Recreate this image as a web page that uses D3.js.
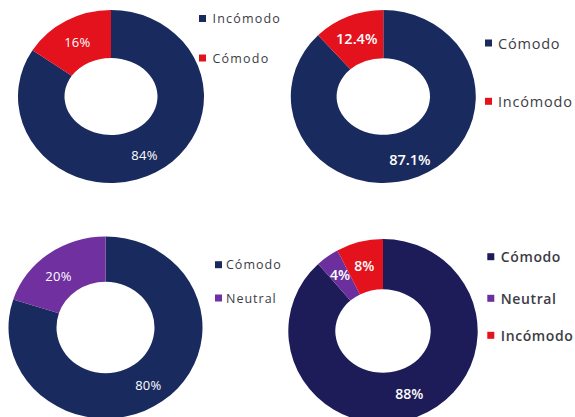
<!DOCTYPE html>
<html>
<head>
<meta charset="utf-8">
<script src="https://cdn.jsdelivr.net/npm/d3@7"></script>
<style>
  html, body { margin: 0; padding: 0; background: #ffffff; }
  svg { display: block; }
</style>
</head>
<body>
<svg id="chart" width="575" height="417"></svg>
<script>
// ---- data ----
const categoriesA = ["Incómodo", "Cómodo"];
const valuesA = [84, 16];

const categoriesB = ["Cómodo", "Incómodo"];
const valuesB = [87.1, 12.4];

const categoriesC = ["Cómodo", "Neutral"];
const valuesC = [80, 20];

const categoriesD = ["Cómodo", "Neutral", "Incómodo"];
const valuesD = [88, 4, 8];

// ---- layout & style for each donut ----
const NAVY = "#192a5e", RED = "#e3121d", PURPLE = "#7030a0";
const panels = [
  { cats: categoriesA, vals: valuesA, colors: [NAVY, RED],
    cx: 111, cy: 96.5, orx: 93, ory: 86.5, irx: 46.5, iry: 38.5,
    nudge: [[0, 4], [0, 0]],
    labelFont: { family: "Open Sans", size: 13, weight: 400, spacing: 0.3 },
    legend: { x: 199, y: [18.5, 58], sq: 7, gap: 6.5, family: "Open Sans", size: 12.5, weight: 400, spacing: 1.2 } },
  { cats: categoriesB, vals: valuesB, colors: [NAVY, RED],
    cx: 383.3, cy: 96.5, orx: 92.5, ory: 86.5, irx: 46.7, iry: 38.3,
    nudge: [[0, 5], [0, 0]],
    labelFont: { family: "Open Sans", size: 14.5, weight: 600, spacing: 0 },
    legend: { x: 485, y: [43, 101.3], sq: 7, gap: 6, family: "Open Sans", size: 14.5, weight: 400, spacing: 0.8 } },
  { cats: categoriesC, vals: valuesC, colors: [NAVY, PURPLE],
    cx: 105.5, cy: 327.5, orx: 97, ory: 91, irx: 49, iry: 45.8,
    nudge: [[0, 2], [-4, 4]],
    labelFont: { family: "Open Sans", size: 13, weight: 400, spacing: 0.3 },
    legend: { x: 215, y: [264.7, 298], sq: 7, gap: 4, family: "Open Sans", size: 12.5, weight: 400, spacing: 1 } },
  { cats: categoriesD, vals: valuesD, colors: ["#1d1c59", "#6b2f9e", RED],
    cx: 383, cy: 331, orx: 94.7, ory: 92, irx: 47.7, iry: 41.7,
    nudge: [[0, 0], [-1, -2], [-1, -1]],
    labelFont: { family: "Open Sans", size: 14, weight: 600, spacing: 0 },
    legend: { x: 487.3, y: [256.7, 298.3, 335.3], sq: 7, gap: 6.5, family: "Open Sans", size: 14, weight: 600, spacing: 0.6 } }
];

const svg = d3.select("#chart");
const pie = d3.pie().sort(null).value(d => d);

// point on an ellipse, angle measured clockwise from 12 o'clock
function pt(cx, cy, rx, ry, a) {
  return [cx + rx * Math.sin(a), cy - ry * Math.cos(a)];
}

// ring segment bounded by an outer and an inner ellipse
function ellipseRing(p, a0, a1) {
  const large = (a1 - a0) > Math.PI ? 1 : 0;
  const o0 = pt(p.cx, p.cy, p.orx, p.ory, a0), o1 = pt(p.cx, p.cy, p.orx, p.ory, a1);
  const i1 = pt(p.cx, p.cy, p.irx, p.iry, a1), i0 = pt(p.cx, p.cy, p.irx, p.iry, a0);
  return `M${o0[0]},${o0[1]}A${p.orx},${p.ory} 0 ${large} 1 ${o1[0]},${o1[1]}` +
         `L${i1[0]},${i1[1]}A${p.irx},${p.iry} 0 ${large} 0 ${i0[0]},${i0[1]}Z`;
}

panels.forEach(p => {
  const g = svg.append("g");
  const arcs = pie(p.vals);

  g.selectAll("path.slice")
    .data(arcs)
    .join("path")
    .attr("class", "slice")
    .attr("d", d => ellipseRing(p, d.startAngle, d.endAngle))
    .attr("fill", (d, i) => p.colors[i]);

  // value labels at the middle of each ring segment
  const mid = (d, i) => {
    const a = (d.startAngle + d.endAngle) / 2;
    const q = pt(p.cx, p.cy, (p.orx + p.irx) / 2, (p.ory + p.iry) / 2, a);
    return [q[0] + p.nudge[i][0], q[1] + p.nudge[i][1]];
  };
  g.selectAll("text.val")
    .data(arcs)
    .join("text")
    .attr("class", "val")
    .attr("x", (d, i) => mid(d, i)[0])
    .attr("y", (d, i) => mid(d, i)[1])
    .attr("text-anchor", "middle")
    .attr("dominant-baseline", "central")
    .attr("fill", "#ffffff")
    .style("font-family", p.labelFont.family)
    .style("font-size", p.labelFont.size + "px")
    .style("font-weight", p.labelFont.weight)
    .style("letter-spacing", p.labelFont.spacing + "px")
    .text(d => d.data + "%");

  // legend
  const L = p.legend;
  const items = g.selectAll("g.leg")
    .data(p.cats)
    .join("g")
    .attr("class", "leg")
    .attr("transform", (d, i) => `translate(${L.x},${L.y[i]})`);
  items.append("rect")
    .attr("x", 0).attr("y", -L.sq / 2)
    .attr("width", L.sq).attr("height", L.sq)
    .attr("fill", (d, i) => p.colors[i]);
  items.append("text")
    .attr("x", L.sq + L.gap)
    .attr("y", 0)
    .attr("dominant-baseline", "central")
    .attr("fill", "#3c3c44")
    .style("font-family", L.family)
    .style("font-size", L.size + "px")
    .style("font-weight", L.weight)
    .style("letter-spacing", L.spacing + "px")
    .text(d => d);
});
</script>
</body>
</html>
